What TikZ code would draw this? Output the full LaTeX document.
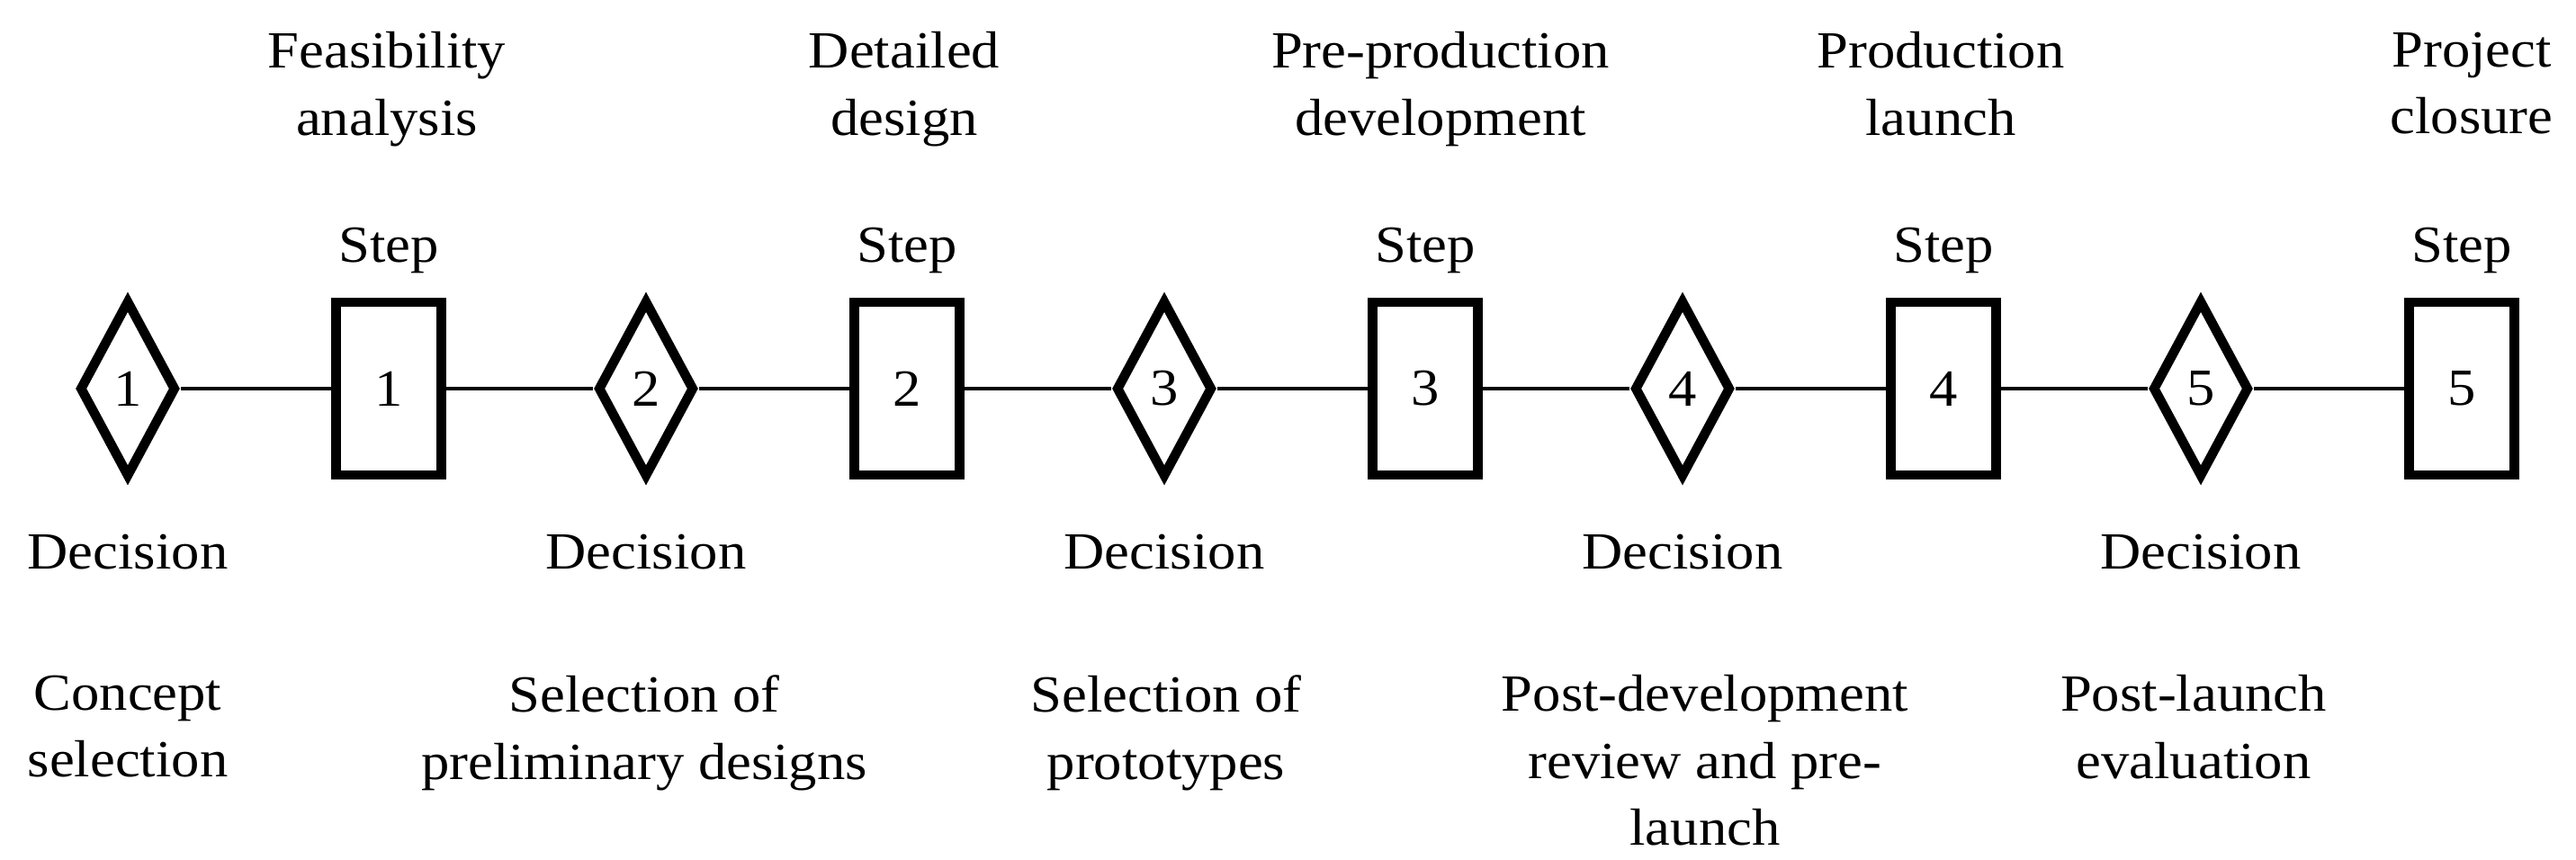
\documentclass[tikz,border=0pt]{standalone}
\usepackage{fontspec}
\setmainfont{Liberation Serif}[FakeStretch=1.08]
\usetikzlibrary{shapes.geometric}

\begin{document}
\begin{tikzpicture}[
  font = \fontsize{16.5pt}{21.2pt}\selectfont,
  decision/.style = {diamond, draw, line width=3pt, minimum width=1.08cm, minimum height=1.97cm, inner sep=0pt},
  stepbox/.style = {rectangle, draw, line width=3.1pt, minimum width=1.17cm, minimum height=1.92cm, inner sep=0pt},
  link/.style = {line width=.95pt},
  lbl/.style = {align=center, inner sep=0pt}
]
\useasboundingbox (0,0) rectangle (28.63,9.55);

% the line of decisions and steps
\node[decision] (d1) at (1.42,5.23) {1};
\node[stepbox] (s1) at (4.32,5.23) {1};
\node[decision] (d2) at (7.18,5.23) {2};
\node[stepbox] (s2) at (10.08,5.23) {2};
\node[decision] (d3) at (12.94,5.23) {3};
\node[stepbox] (s3) at (15.84,5.23) {3};
\node[decision] (d4) at (18.70,5.23) {4};
\node[stepbox] (s4) at (21.60,5.23) {4};
\node[decision] (d5) at (24.46,5.23) {5};
\node[stepbox] (s5) at (27.36,5.23) {5};

\draw[link] (d1) -- (s1) -- (d2) -- (s2) -- (d3) -- (s3) -- (d4) -- (s4) -- (d5) -- (s5);

% step labels
\node[lbl, anchor=base] (st1) at (4.32,6.63) {Step};
\node[lbl, anchor=base] (st2) at (10.08,6.63) {Step};
\node[lbl, anchor=base] (st3) at (15.84,6.63) {Step};
\node[lbl, anchor=base] (st4) at (21.60,6.63) {Step};
\node[lbl, anchor=base] (st5) at (27.36,6.63) {Step};

\node[lbl, anchor=north] (top1) at (4.30,9.20) {Feasibility\\analysis};
\node[lbl, anchor=north] (top2) at (10.05,9.20) {Detailed\\design};
\node[lbl, anchor=north] (top3) at (16.01,9.20) {Pre-production\\development};
\node[lbl, anchor=north] (top4) at (21.57,9.20) {Production\\launch};
\node[lbl, anchor=north] (top5) at (27.47,9.20) {Project\\closure};

% decision labels
\node[lbl, anchor=base] (dec1) at (1.42,3.23) {Decision};
\node[lbl, anchor=base] (dec2) at (7.18,3.23) {Decision};
\node[lbl, anchor=base] (dec3) at (12.94,3.23) {Decision};
\node[lbl, anchor=base] (dec4) at (18.70,3.23) {Decision};
\node[lbl, anchor=base] (dec5) at (24.46,3.23) {Decision};

\node[lbl, anchor=north] (bot1) at (1.42,2.05) {Concept\\selection};
\node[lbl, anchor=north] (bot2) at (7.16,2.05) {Selection of\\preliminary designs};
\node[lbl, anchor=north] (bot3) at (12.96,2.05) {Selection of\\prototypes};
\node[lbl, anchor=north] (bot4) at (18.95,2.05) {Post-development\\review and pre-\\launch};
\node[lbl, anchor=north] (bot5) at (24.38,2.05) {Post-launch\\evaluation};
\end{tikzpicture}
\end{document}
